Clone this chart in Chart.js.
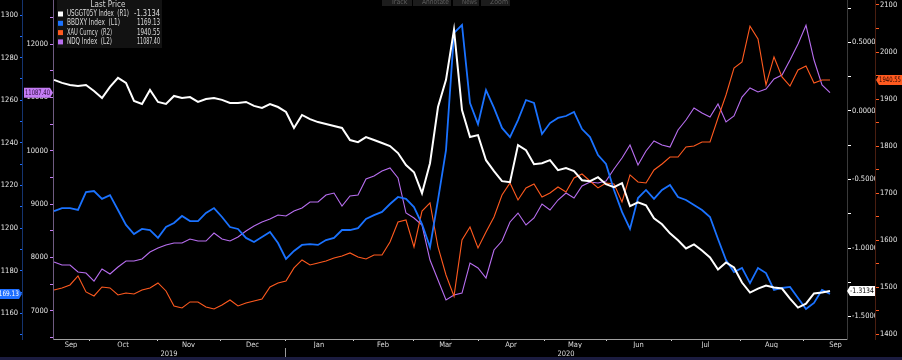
<!DOCTYPE html>
<html>
<head>
<meta charset="utf-8">
<script src="https://cdn.jsdelivr.net/npm/chart.js@4.4.1/dist/chart.umd.min.js"></script>
<style>
  html, body { margin: 0; padding: 0; background: #000; }
  #wrap { width: 902px; height: 360px; position: relative; }
</style>
</head>
<body>
<div id="wrap"><canvas id="chart"></canvas></div>
<script>
// one sample every ~2.7 trading days, mid Sep 2019 -> mid Sep 2020
const realYield = [0.227, 0.205, 0.190, 0.183, 0.190, 0.146, 0.095, 0.176, 0.242, 0.205,
  0.073, 0.051, 0.154, 0.066, 0.051, 0.110, 0.095, 0.102, 0.066, 0.088,
  0.095, 0.081, 0.059, 0.059, 0.066, 0.037, 0.022, 0.051, 0.029, -0.007,
  -0.124, -0.029, -0.059, -0.081, -0.095, -0.110, -0.124, -0.212, -0.227, -0.190,
  -0.212, -0.234, -0.256, -0.307, -0.395, -0.447, -0.600, -0.381, 0.029, 0.227,
  0.593, 0.007, -0.190, -0.176, -0.359, -0.439, -0.512, -0.520, -0.249, -0.286,
  -0.388, -0.381, -0.359, -0.432, -0.417, -0.439, -0.505, -0.512, -0.483, -0.534,
  -0.556, -0.527, -0.695, -0.666, -0.688, -0.783, -0.827, -0.893, -0.944, -1.003,
  -0.974, -1.018, -1.069, -1.157, -1.105, -1.142, -1.252, -1.325, -1.296, -1.274,
  -1.288, -1.296, -1.369, -1.435, -1.406, -1.332, -1.325, -1.3134];

const dollarIdx = [1208.0, 1209.4, 1209.4, 1208.5, 1216.9, 1217.4, 1213.7, 1215.5, 1208.5, 1201.5,
  1197.2, 1199.6, 1199.1, 1195.4, 1200.5, 1202.4, 1205.7, 1203.3, 1203.3, 1207.1,
  1209.4, 1205.2, 1200.5, 1199.6, 1195.4, 1193.5, 1195.8, 1198.2, 1193.0, 1185.5,
  1189.3, 1192.1, 1192.5, 1192.1, 1194.4, 1195.4, 1199.1, 1199.1, 1200.0, 1204.3,
  1206.1, 1207.6, 1211.3, 1214.6, 1213.7, 1209.9, 1201.9, 1191.1, 1213.2, 1236.6,
  1291.6, 1295.3, 1258.7, 1248.8, 1264.8, 1256.4, 1247.0, 1242.7, 1250.7, 1260.1,
  1258.7, 1244.2, 1249.3, 1251.7, 1252.6, 1254.5, 1246.5, 1242.7, 1234.3, 1230.1,
  1217.9, 1207.6, 1199.6, 1214.1, 1217.9, 1213.7, 1217.9, 1220.2, 1214.6, 1213.2,
  1210.8, 1208.5, 1205.2, 1194.9, 1185.0, 1179.4, 1181.3, 1174.2, 1181.3, 1178.9,
  1171.0, 1171.9, 1172.4, 1167.2, 1162.0, 1164.9, 1171.0, 1169.13];

const gold = [1494.3, 1498.5, 1504.9, 1524.0, 1490.0, 1481.5, 1500.6, 1498.5, 1483.6, 1487.9,
  1485.8, 1494.3, 1498.5, 1509.1, 1492.1, 1460.3, 1456.0, 1468.8, 1468.8, 1458.1,
  1453.9, 1462.4, 1473.0, 1460.3, 1466.6, 1470.9, 1475.1, 1500.6, 1509.1, 1513.4,
  1541.0, 1558.0, 1547.4, 1551.6, 1555.9, 1562.3, 1566.5, 1572.9, 1564.4, 1560.1,
  1568.6, 1568.6, 1596.3, 1638.8, 1643.0, 1585.6, 1662.0, 1679.2, 1585.6, 1526.0,
  1481.0, 1600.5, 1628.2, 1583.5, 1617.5, 1649.4, 1696.2, 1721.7, 1685.5, 1711.1,
  1719.6, 1691.9, 1700.4, 1713.2, 1702.6, 1732.3, 1740.8, 1725.9, 1711.1, 1721.7,
  1719.6, 1681.3, 1738.7, 1723.8, 1721.7, 1749.3, 1762.1, 1776.9, 1776.9, 1798.2,
  1800.3, 1808.8, 1808.8, 1859.8, 1908.7, 1966.1, 1978.9, 2055.0, 2027.7, 1930.0,
  1989.5, 1947.0, 1927.8, 1961.8, 1970.4, 1934.2, 1940.6, 1940.55];

const nasdaq = [7912, 7856, 7856, 7725, 7706, 7556, 7781, 7688, 7819, 7931,
  7931, 7969, 8100, 8175, 8231, 8269, 8269, 8344, 8306, 8306,
  8456, 8344, 8306, 8381, 8494, 8588, 8663, 8719, 8794, 8775,
  8869, 8925, 9038, 9038, 9169, 9206, 8963, 9150, 9169, 9469,
  9525, 9619, 9675, 9488, 8831, 8738, 8606, 7950, 7575, 7200,
  7294, 7330, 7894, 7800, 7613, 8138, 8306, 8663, 8831, 8606,
  8738, 9000, 8888, 9075, 9206, 9113, 9338, 9413, 9394, 9431,
  9656, 9863, 10106, 9731, 9994, 10181, 10106, 10069, 10388, 10575,
  10800, 10706, 10631, 10875, 10538, 10650, 11006, 11175, 11100, 11156,
  11344, 11419, 11700, 12000, 12350, 11700, 11231, 11087.40];

// sample index where each month begins (first entry = start of the window)
const monthLabels = ['Sep', 'Oct', 'Nov', 'Dec', 'Jan', 'Feb', 'Mar', 'Apr', 'May', 'Jun', 'Jul', 'Aug', 'Sep'];
const monthStarts = [-0.125, 4.375, 12.875, 20.75, 28.875, 37.375, 44.875, 53, 61.25, 69, 77.125, 85.75, 93.625];
const yearLabels = ['2019', '2020'];

const seriesNames = ['USGGT05Y Index', 'BBDXY Index', 'XAU Curncy', 'NDQ Index'];
const seriesAxes = ['R1', 'L1', 'R2', 'L2'];
const seriesColors = ['#ffffff', '#1a72ff', '#ff5a1f', '#b86ef0'];

const xMin = -0.125, xMax = 99.125;
const font = "'Liberation Sans Narrow', 'DejaVu Sans Condensed', 'Liberation Sans', sans-serif";
const axisFont = { family: font, size: 7.5 };

// x ticks: month boundaries (marks only) + month centres (labels only)
const monthTicks = [];
monthLabels.forEach((m, i) => {
  const start = monthStarts[i];
  const end = i + 1 < monthStarts.length ? monthStarts[i + 1] : start + 8.125;
  if (i > 0) monthTicks.push({ value: start, label: '', mark: true });
  monthTicks.push({ value: (start + end) / 2, label: m, mark: false });
});
const jan = monthStarts[monthLabels.indexOf('Jan')];
const yearTicks = [
  { value: (xMin + jan) / 2, label: yearLabels[0], mark: false },
  { value: jan, label: '', mark: true },
  { value: (jan + xMax) / 2, label: yearLabels[1], mark: false }
];

function yAxis(o) {
  return {
    type: 'linear', position: o.pos, weight: o.weight, min: o.min, max: o.max, bounds: 'data',
    afterBuildTicks: s => {
      const t = [];
      for (let v = o.lo; v <= o.hi + 1e-9; v += o.step) t.push({ value: +v.toFixed(6) });
      s.ticks = t;
    },
    afterFit: s => { s.width = o.width; s.paddingTop = 0; s.paddingBottom = 0; },
    ticks: {
      autoSkip: false, color: '#e8e8e8', font: axisFont, padding: o.pad,
      callback: v => {
        const r = v / o.major;
        return Math.abs(r - Math.round(r)) < 1e-6 ? o.fmt(v) : '';
      }
    },
    grid: { drawOnChartArea: false, tickLength: o.tickLen, tickColor: o.color, tickWidth: 1 },
    border: { display: true, color: o.line, width: 1 }
  };
}

const pts = arr => arr.map((v, i) => ({ x: i, y: v }));

const decor = {
  id: 'decor',
  beforeDraw(chart) {
    const c = chart.ctx;
    c.save();
    c.fillStyle = '#000';
    c.fillRect(0, 0, chart.width, chart.height);
    c.fillStyle = '#1b1c40';
    c.fillRect(0, 357, chart.width, 3);
    // greyed-out toolbar at the top
    const tools = [['Track', 382, 30], ['Annotate', 413, 38], ['News', 453, 26], ['Zoom', 481, 29]];
    c.font = '7px ' + font;
    c.textBaseline = 'alphabetic';
    tools.forEach(([t, x, w]) => {
      c.fillStyle = '#1c1c1c';
      c.fillRect(x, 0, w, 6);
      c.fillStyle = '#5e5e5e';
      c.fillText(t, x + 9, 4, w - 11);
    });
    c.restore();
  },
  afterDraw(chart) {
    const c = chart.ctx;
    const lasts = [realYield, dollarIdx, gold, nasdaq].map(a => a[a.length - 1]);
    const texts = [lasts[0].toFixed(4), lasts[1].toFixed(2), lasts[2].toFixed(2), lasts[3].toFixed(2)];
    c.save();
    // last value tags
    c.font = '7.5px ' + font;
    c.textBaseline = 'middle';
    const tag = (axis, i, side, x0, x1, bg, fg) => {
      const y = chart.scales[axis].getPixelForValue(lasts[i]);
      c.fillStyle = bg;
      c.beginPath();
      if (side === 'left') { // arrow on the right, pointing at the axis
        c.moveTo(x0, y - 5); c.lineTo(x1 - 3, y - 5); c.lineTo(x1, y); c.lineTo(x1 - 3, y + 5); c.lineTo(x0, y + 5);
      } else {
        c.moveTo(x1, y - 5); c.lineTo(x0 + 3, y - 5); c.lineTo(x0, y); c.lineTo(x0 + 3, y + 5); c.lineTo(x1, y + 5);
      }
      c.closePath();
      c.fill();
      c.fillStyle = fg;
      if (side === 'left') {
        c.textAlign = 'right';
        c.fillText(texts[i], x1 - 3, y + 0.5, Math.max(x1 - x0 - 4, 24));
      } else {
        c.textAlign = 'left';
        c.fillText(texts[i], x0 + 3, y + 0.5, x1 - x0 - 4);
      }
    };
    tag('L1', 1, 'left', -4, 22, '#1f6fff', '#ffffff');
    tag('L2', 3, 'left', 24, 53, '#c47cf4', '#2a0b3a');
    tag('R1', 0, 'right', 847, 875, '#ffffff', '#000000');
    tag('R2', 2, 'right', 876, 902, '#ff5a1f', '#2a0800');

    // legend box
    c.fillStyle = '#121212';
    c.fillRect(57, 0, 105, 48);
    c.font = '8px ' + font;
    c.fillStyle = '#d6d6d6';
    c.textAlign = 'center';
    c.fillText('Last Price', 108, 5);
    const nameEnds = [129, 120, 112, 112];
    seriesNames.forEach((n, i) => {
      const y = 14 + i * 9.3;
      c.fillStyle = seriesColors[i];
      c.fillRect(58, y - 2.5, 5, 5);
      c.fillStyle = '#dcdcdc';
      c.textAlign = 'left';
      c.fillText(n + '  (' + seriesAxes[i] + ')', 67, y, nameEnds[i] - 67);
      c.textAlign = 'right';
      c.fillText(texts[i], 160, y, i === 0 ? 26 : 23);
    });
    c.restore();
  }
};

new Chart(document.getElementById('chart'), {
  type: 'line',
  data: {
    datasets: [
      { label: seriesNames[0], data: pts(realYield), yAxisID: 'R1', borderColor: seriesColors[0], borderWidth: 2, order: 0 },
      { label: seriesNames[1], data: pts(dollarIdx), yAxisID: 'L1', borderColor: seriesColors[1], borderWidth: 1.8, order: 1 },
      { label: seriesNames[2], data: pts(gold), yAxisID: 'R2', borderColor: seriesColors[2], borderWidth: 1.1, order: 2 },
      { label: seriesNames[3], data: pts(nasdaq), yAxisID: 'L2', borderColor: seriesColors[3], borderWidth: 1.1, order: 3 }
    ]
  },
  options: {
    responsive: true,
    maintainAspectRatio: false,
    animation: false,
    events: [],
    layout: { padding: 0 },
    elements: { point: { radius: 0 }, line: { tension: 0, fill: false } },
    plugins: { legend: { display: false }, tooltip: { enabled: false } },
    scales: {
      x: {
        type: 'linear', position: 'bottom', weight: 0, min: xMin, max: xMax, bounds: 'data',
        afterBuildTicks: s => { s.ticks = monthTicks.map(t => ({ value: t.value })); },
        afterFit: s => { s.height = 9; s.paddingLeft = 0; s.paddingRight = 0; },
        ticks: { autoSkip: false, maxRotation: 0, color: '#dcdcdc', font: axisFont, padding: 0,
          callback: (v, i) => monthTicks[i] ? monthTicks[i].label : '' },
        grid: { drawOnChartArea: false, tickLength: 2,
          tickColor: ctx => (monthTicks[ctx.index] && monthTicks[ctx.index].mark) ? '#d0d0d0' : 'rgba(0,0,0,0)' },
        border: { display: true, color: '#a0a0a0', width: 1 }
      },
      x2: {
        type: 'linear', position: 'bottom', weight: 1, min: xMin, max: xMax, bounds: 'data',
        afterBuildTicks: s => { s.ticks = yearTicks.map(t => ({ value: t.value })); },
        afterFit: s => { s.height = 12; s.paddingLeft = 0; s.paddingRight = 0; },
        ticks: { autoSkip: false, maxRotation: 0, color: '#dcdcdc', font: axisFont, padding: -7,
          callback: (v, i) => yearTicks[i] ? yearTicks[i].label : '' },
        grid: { drawOnChartArea: false, tickLength: 9,
          tickColor: ctx => (yearTicks[ctx.index] && yearTicks[ctx.index].mark) ? '#9a9a9a' : 'rgba(0,0,0,0)' },
        border: { display: false }
      },
      L1: yAxis({ pos: 'left', weight: 2, min: 1147.96, max: 1307.04, lo: 1150, hi: 1300, step: 10, major: 20,
        width: 22, tickLen: 2, pad: 2, color: '#1f6fff', line: '#14336e', fmt: v => String(v) }),
      L2: yAxis({ pos: 'left', weight: 1, min: 6469, max: 12825, lo: 6500, hi: 12500, step: 500, major: 1000,
        width: 31, tickLen: 3, pad: 2, color: '#c47cf4', line: '#6e5a80', fmt: v => String(v) }),
      R1: yAxis({ pos: 'right', weight: 1, min: -1.6642, max: 0.8102, lo: -1.5, hi: 0.75, step: 0.25, major: 0.5,
        width: 28, tickLen: 4, pad: 1, color: '#ffffff', line: '#3a3a3a', fmt: v => v.toFixed(4) }),
      R2: yAxis({ pos: 'right', weight: 2, min: 1390, max: 2110.6, lo: 1400, hi: 2100, step: 50, major: 100,
        width: 27, tickLen: 4, pad: 1, color: '#ff5a1f', line: '#4a1e10', fmt: v => String(v) })
    }
  },
  plugins: [decor]
});
</script>
</body>
</html>
